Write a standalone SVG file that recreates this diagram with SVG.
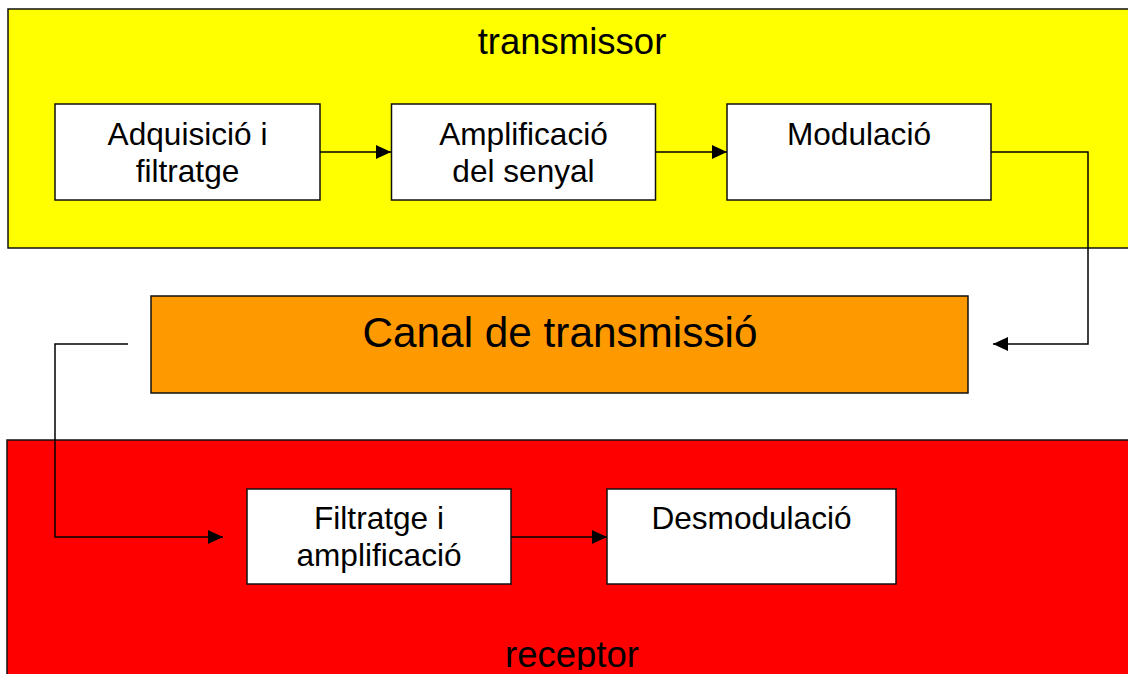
<svg xmlns="http://www.w3.org/2000/svg" width="1128" height="674" viewBox="0 0 1128 674">
<style>
.panel{stroke:#111;stroke-width:1.5}
.box{fill:#fff;stroke:#111;stroke-width:1.5}
.t{font-family:"Liberation Sans",Arial,sans-serif;fill:#000;text-anchor:middle}
.bt{font-size:31.6px}
.lt{font-size:36.5px}
.ct{font-size:42.3px}
.conn{fill:none;stroke:#000;stroke-width:1.5}
</style>
<defs>
<marker id="ah" markerUnits="userSpaceOnUse" markerWidth="16" markerHeight="16" viewBox="0 0 16 16" refX="15" refY="8" orient="auto">
<path d="M0,1 L15,8 L0,15 Z" fill="#000"/>
</marker>
<clipPath id="clipBottom"><rect x="0" y="0" width="1128" height="670"/></clipPath>
</defs>
<rect width="1128" height="674" fill="#fff"/>
<g id="transmissor">
<rect class="panel" x="8" y="9" width="1130" height="239" fill="#ffff00"/>
<text class="t lt" x="572" y="54">transmissor</text>
</g>
<g id="canal">
<rect class="panel" x="151" y="296" width="817" height="97" fill="#ff9900"/>
<text class="t ct" x="560" y="347">Canal de transmissió</text>
</g>
<g id="receptor">
<rect class="panel" x="7" y="440" width="1130" height="240" fill="#ff0000"/>
<text class="t lt" x="572" y="667" clip-path="url(#clipBottom)">receptor</text>
</g>
<g id="adquisicio">
<rect class="box" x="55" y="104" width="265" height="96"/>
<text class="t bt" x="187.5" y="145">Adquisició i</text>
<text class="t bt" x="187.5" y="182">filtratge</text>
</g>
<g id="amplificacio">
<rect class="box" x="391.5" y="104" width="264" height="96"/>
<text class="t bt" x="523.5" y="145">Amplificació</text>
<text class="t bt" x="523.5" y="182">del senyal</text>
</g>
<g id="modulacio">
<rect class="box" x="727" y="104" width="264" height="96"/>
<text class="t bt" x="859" y="145">Modulació</text>
</g>
<g id="filtratge">
<rect class="box" x="247" y="489" width="264" height="95"/>
<text class="t bt" x="379" y="529">Filtratge i</text>
<text class="t bt" x="379" y="566">amplificació</text>
</g>
<g id="desmodulacio">
<rect class="box" x="607" y="489" width="289" height="95"/>
<text class="t bt" x="751.5" y="529">Desmodulació</text>
</g>
<g id="connectors">
<path class="conn" d="M320,152 L391,152" marker-end="url(#ah)"/>
<path class="conn" d="M655.5,152 L727,152" marker-end="url(#ah)"/>
<path class="conn" d="M991,152 L1088,152 L1088,344 L993,344" marker-end="url(#ah)"/>
<path class="conn" d="M128,344 L55,344 L55,537 L223,537" marker-end="url(#ah)"/>
<path class="conn" d="M511,537 L607,537" marker-end="url(#ah)"/>
</g>
</svg>
